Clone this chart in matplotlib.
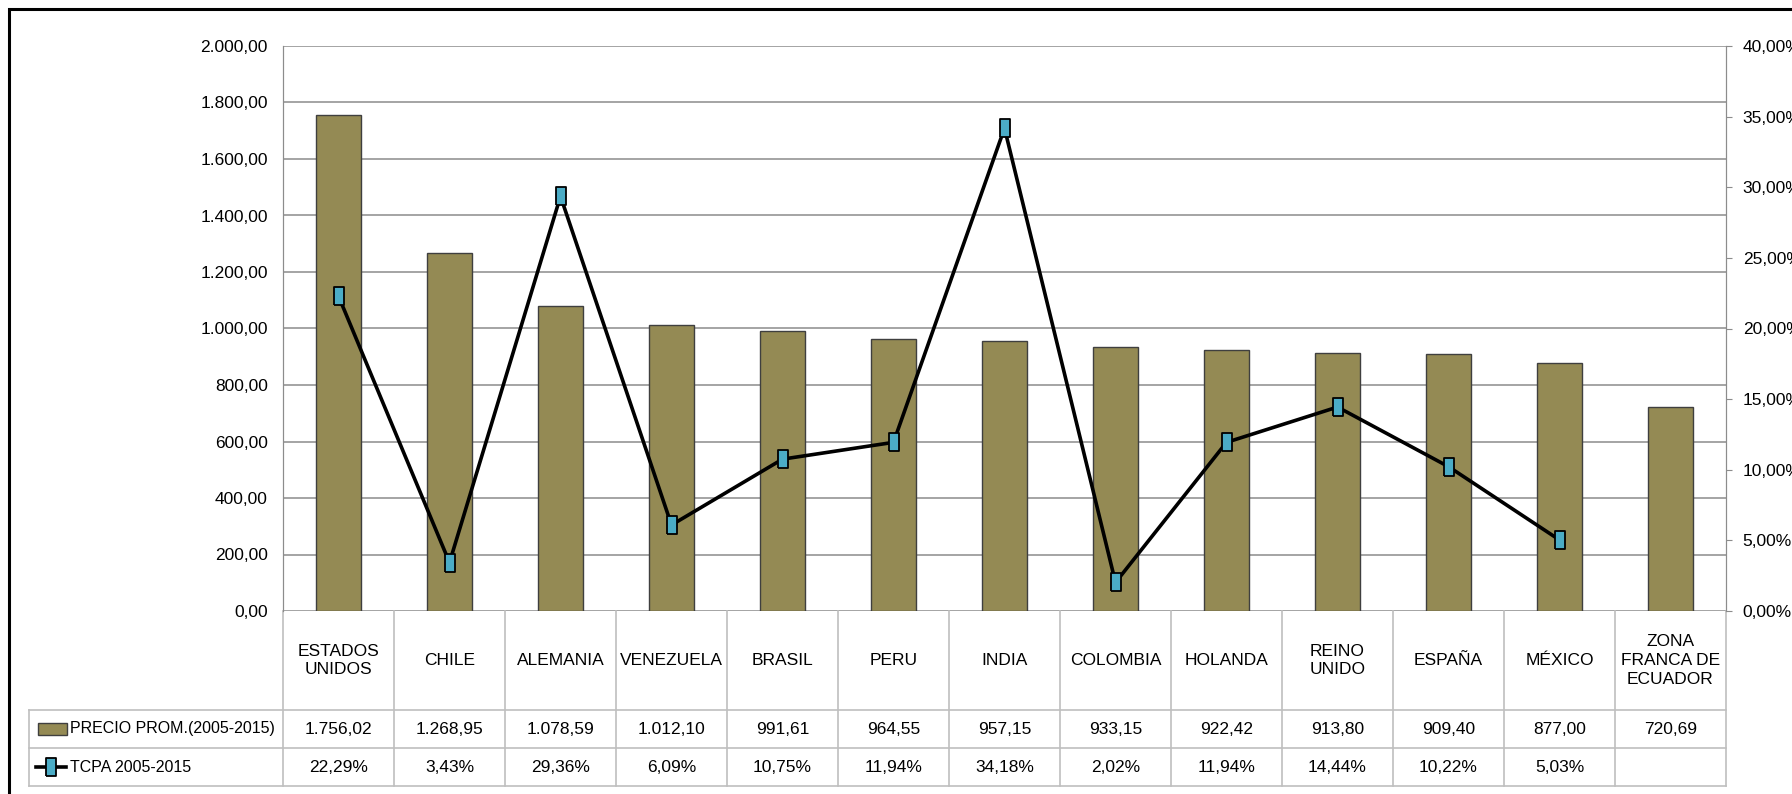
import numpy as np
import matplotlib.pyplot as plt
from matplotlib.patches import Rectangle
from matplotlib.lines import Line2D
from matplotlib.ticker import FuncFormatter
from matplotlib.transforms import blended_transform_factory

plt.rcParams['font.family'] = ['Liberation Sans Narrow', 'Liberation Sans', 'DejaVu Sans']

paises = ["ESTADOS\nUNIDOS", "CHILE", "ALEMANIA", "VENEZUELA", "BRASIL", "PERU", "INDIA",
          "COLOMBIA", "HOLANDA", "REINO\nUNIDO", "ESPAÑA", "MÉXICO", "ZONA\nFRANCA DE\nECUADOR"]
precio = [1756.02, 1268.95, 1078.59, 1012.10, 991.61, 964.55, 957.15,
          933.15, 922.42, 913.80, 909.40, 877.00, 720.69]
tcpa = [22.29, 3.43, 29.36, 6.09, 10.75, 11.94, 34.18,
        2.02, 11.94, 14.44, 10.22, 5.03, np.nan]
serie_barras = "PRECIO PROM.(2005-2015)"
serie_linea = "TCPA 2005-2015"


def fmt_num(v, dec=2):
    s = f"{v:,.{dec}f}"
    return s.replace(",", "X").replace(".", ",").replace("X", ".")


W, H = 1792, 794
fig = plt.figure(figsize=(W / 100, H / 100), dpi=100)
ax = fig.add_axes([283 / W, 1 - 611 / H, (1726 - 283) / W, (611 - 46) / H])
ax2 = ax.twinx()

bar_color = "#948A54"
mk_color = "#4BACC6"
grid_color = "#8C8C8C"
table_color = "#BFBFBF"
fs = 12.5
fs_leg = 11.5

x = np.arange(len(paises))
ax.bar(x, precio, width=0.4, color=bar_color, edgecolor="#3F3F3F", linewidth=1, zorder=2)
ax.set_xlim(-0.5, len(paises) - 0.5)
ax.set_ylim(0, 2000)
ax.set_yticks(np.arange(0, 2001, 200))
ax.yaxis.set_major_formatter(FuncFormatter(lambda v, p: fmt_num(v)))
ax.grid(axis="y", color=grid_color, linewidth=1.1, zorder=0)
ax.set_axisbelow(True)
ax.set_xticks([])
ax.tick_params(axis="y", length=0, pad=11, labelsize=fs)

rect_marker = [(-0.3, -0.5), (0.3, -0.5), (0.3, 0.5), (-0.3, 0.5), (-0.3, -0.5)]
ax2.plot(x, tcpa, color="black", linewidth=2.6, marker=rect_marker, markersize=13,
         markerfacecolor=mk_color, markeredgecolor="black", markeredgewidth=1.3, zorder=3)
ax2.set_ylim(0, 40)
ax2.set_yticks(np.arange(0, 41, 5))
ax2.yaxis.set_major_formatter(FuncFormatter(lambda v, p: fmt_num(v) + "%"))
ax2.tick_params(axis="y", length=4, color=grid_color, pad=8, labelsize=fs)

for a in (ax, ax2):
    for side in ("top", "bottom"):
        a.spines[side].set_visible(False)
    a.spines["left"].set_color(grid_color)
    a.spines["right"].set_color(grid_color)

# tabla de datos debajo del eje
tr = blended_transform_factory(ax.transData, fig.transFigure)
fy = lambda py: 1 - py / H
fx = lambda px: px / W
y_top, y_r1, y_r2, y_bot = 611, 710, 748, 786
x_tab = 29

for i in range(len(paises) + 1):
    ax.add_line(Line2D([i - 0.5, i - 0.5], [fy(y_top), fy(y_bot)], transform=tr,
                       color=table_color, linewidth=1.2, clip_on=False))
for py in (y_r1, y_r2, y_bot):
    fig.add_artist(Line2D([fx(x_tab), fx(1726)], [fy(py), fy(py)], color=table_color, linewidth=1.2))
fig.add_artist(Line2D([fx(x_tab), fx(x_tab)], [fy(y_r1), fy(y_bot)], color=table_color, linewidth=1.2))

for i, p in enumerate(paises):
    ax.text(i, fy((y_top + y_r1) / 2), p, transform=tr, ha="center", va="center",
            fontsize=fs, linespacing=1.3)
    ax.text(i, fy((y_r1 + y_r2) / 2), fmt_num(precio[i]), transform=tr, ha="center",
            va="center", fontsize=fs)
    if not np.isnan(tcpa[i]):
        ax.text(i, fy((y_r2 + y_bot) / 2), fmt_num(tcpa[i]) + "%", transform=tr,
                ha="center", va="center", fontsize=fs)

# claves de la leyenda en la tabla
yc1 = (y_r1 + y_r2) / 2
yc2 = (y_r2 + y_bot) / 2
fig.add_artist(Rectangle((fx(38), fy(yc1 + 6)), fx(29), 12 / H, facecolor=bar_color,
                         edgecolor="#3F3F3F", linewidth=1))
fig.text(fx(70), fy(yc1), serie_barras, ha="left", va="center", fontsize=fs_leg)
fig.add_artist(Line2D([fx(36), fx(66)], [fy(yc2), fy(yc2)], color="black", linewidth=2.6))
fig.add_artist(Line2D([fx(51)], [fy(yc2)], marker=rect_marker, markersize=13,
                      markerfacecolor=mk_color, markeredgecolor="black", markeredgewidth=1.3))
fig.text(fx(70), fy(yc2), serie_linea, ha="left", va="center", fontsize=fs_leg)

# marco del gráfico
fig.add_artist(Rectangle((fx(9), -0.2), 1.2, fy(9) + 0.2, fill=False, edgecolor="black",
                         linewidth=2.2))

fig.savefig("out.png", dpi=100)
